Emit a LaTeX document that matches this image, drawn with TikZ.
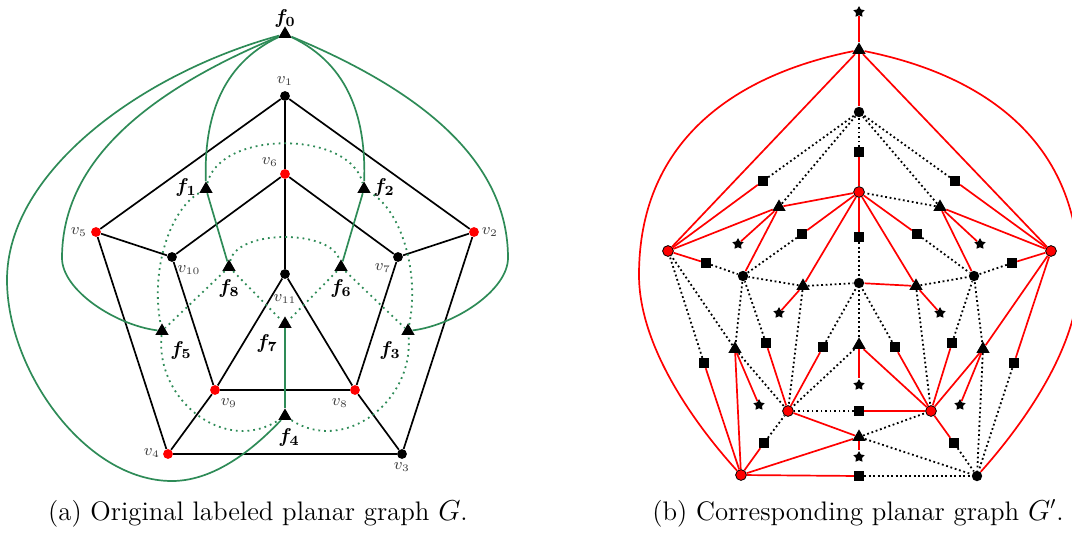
\documentclass[tikz,border=0pt]{standalone}
\usepackage{amsmath}
\usetikzlibrary{shapes.geometric,positioning}
\definecolor{dualGreen}{RGB}{46,139,87}
\definecolor{labGray}{RGB}{60,60,60}
\tikzset{
  vdot/.style={circle,fill=black,inner sep=0pt,minimum size=4.9pt},
  rdot/.style={vdot,fill=red},
  fmark/.style={regular polygon,regular polygon sides=3,fill=black,inner sep=0pt,minimum size=7.6pt},
  emark/.style={rectangle,fill=black,inner sep=0pt,minimum size=4.8pt},
  smark/.style={star,star points=5,star point ratio=1.85,fill=black,inner sep=0pt,minimum size=5.9pt},
  bdot/.style={circle,fill=black,inner sep=0pt,minimum size=5.2pt},
  rring/.style={circle,fill=red,draw=black,line width=0.4pt,inner sep=0pt,minimum size=5.4pt},
  gedge/.style={black,line width=0.85pt},
  dualline/.style={dualGreen,line width=0.85pt},
  dualdot/.style={dualGreen,line width=0.9pt,dotted},
  redline/.style={red,line width=0.85pt},
  dotline/.style={black,line width=0.9pt,dash pattern=on 0.9pt off 1.35pt},
  vlab/.style={text=labGray,inner sep=0pt,font=\fontsize{7.6}{8}\selectfont},
  flab/.style={inner sep=0pt,font=\fontsize{10}{11}\selectfont\boldmath},
  capt/.style={anchor=base,inner sep=0pt,font=\fontsize{13.4}{15}\selectfont}
}
\begin{document}
\begin{tikzpicture}[x=0.5pt,y=-0.5pt]
\useasboundingbox (0,0) rectangle (1072,532);
% (a) graph G and its dual
\node[fmark] (f0) at (285,34) {};
\foreach \n/\x/\y in {v1/285/96,v10/172/257,v7/398/257,v11/285/274,v3/402/454}
  \node[vdot] (\n) at (\x,\y) {};
\foreach \n/\x/\y in {v6/285/174,v5/96/232,v2/474/232,v9/215/390,v8/355/390,v4/168/454}
  \node[rdot] (\n) at (\x,\y) {};
\foreach \n/\x/\y in {f1/206/189,f2/364/189,f8/229/267,f6/341/267,f5/162/331,f3/408/331,f7/285/324,f4/285/416}
  \node[fmark] (\n) at (\x,\y) {};
\foreach \n/\x/\y in {1/285/81,6/270/162,5/79/232,2/490/232,10/189/270,7/383/268,11/285/299,9/229/403,8/340/403,4/152/453,3/402/467}
  \node[vlab] (lv\n) at (\x,\y) {$v_{\n}$};
\foreach \n/\x/\y in {0/285/18,1/186/187,2/384/187,8/229/288,6/341/288,5/181/350,3/390/350,7/267/343,4/289/437}
  \node[flab] (lf\n) at (\x,\y) {$f_{\n}$};
\foreach \a/\b in {v1/v6,v1/v5,v1/v2,v6/v10,v6/v7,v6/v11,v5/v10,v5/v4,v2/v7,v2/v3,v10/v9,v7/v8,v11/v9,v11/v8,v9/v8,v9/v4,v8/v3,v4/v3}
  \draw[gedge] (\a) -- (\b);
\draw[dualdot] (f1) .. controls (220,130) and (350,130) .. (f2);
\draw[dualdot] (f1) .. controls (170,210) and (150,270) .. (f5);
\draw[dualdot] (f5) .. controls (155,400) and (225,455) .. (f4);
\draw[dualdot] (f4) .. controls (345,455) and (415,400) .. (f3);
\draw[dualdot] (f3) .. controls (420,270) and (400,210) .. (f2);
\draw[dualdot] (f8) .. controls (237,229) and (333,229) .. (f6);
\foreach \a/\b in {f8/f5,f8/f7,f6/f7,f6/f3}
  \draw[dualdot] (\a) -- (\b);
\foreach \a/\b in {f1/f8,f2/f6,f7/f4}
  \draw[dualline] (\a) -- (\b);
\draw[dualline] (f0) .. controls (220,65) and (204,120) .. (f1);
\draw[dualline] (f0) .. controls (350,65) and (366,120) .. (f2);
\draw[dualline] (f0) .. controls (150,90) and (62,160) .. (62,258) .. controls (62,290) and (115,325) .. (f5);
\draw[dualline] (f0) .. controls (420,90) and (508,160) .. (508,258) .. controls (508,290) and (455,325) .. (f3);
\draw[dualline] (f0) .. controls (145,72) and (7,170) .. (7,280) .. controls (7,370) and (85,481) .. (172,481) .. controls (220,481) and (262,440) .. (f4);
\node[capt] (capA) at (258,520) {(a) Original labeled planar graph $G$.};
% (b) graph G'
\foreach \n/\x/\y in {w1/859/112,w10/743/276,w7/974/276,w11/859/283,w3/977/476}
  \node[bdot] (\n) at (\x,\y) {};
\foreach \n/\x/\y in {w6/859/192,w5/668/251,w2/1051/251,w9/788/411,w8/931/411,w4/741/475}
  \node[rring] (\n) at (\x,\y) {};
\foreach \n/\x/\y in {g0/859/50,g1/779/207,g2/940/207,g8/803/286,g6/916/286,g5/735/349,g3/983/349,g7/859/345,g4/859/437}
  \node[fmark] (\n) at (\x,\y) {};
\foreach \n/\x/\y in {s0/859/12,s1/738/244,s2/980/244,s8/779/313,s6/940/313,s7/859/385,s5/759/405,s3/960/405,s4/859/457}
  \node[smark] (\n) at (\x,\y) {};
\foreach \n/\x/\y in {e16/859/152,e15/763/181,e12/955/181,e610/802/234,e67/917/234,e611/859/237,e510/706/263,e27/1012/263,e109/766/343,e78/952/343,e119/823/347,e118/895/347,e54/704/363,e23/1014/363,e98/859/411,e94/764/443,e83/954/443,e43/859/476}
  \node[emark] (\n) at (\x,\y) {};
\foreach \a/\b in {g1/w1,g2/w1,g2/w6,g8/w10,g8/w11,g8/w9,g6/w7,g6/w8,g7/w9,g7/w11,g5/w5,g5/w10,g5/w9,g3/w7,g3/w3,g4/w8,g4/w3,
    e16/w1,e15/w1,e12/w1,e610/w10,e67/w7,e611/w11,e510/w10,e27/w7,e109/w10,e78/w7,e119/w11,e118/w11,e54/w5,e23/w3,e98/w9,e94/w9,e83/w3,e43/w3}
  \draw[dotline] (\a) -- (\b);
\foreach \a/\b in {s0/g0,g0/w1,g0/w5,g0/w2,g1/w6,g1/w5,g1/w10,g1/s1,g2/w2,g2/w7,g2/s2,g8/w6,g8/s8,g6/w6,g6/w11,g6/s6,g7/s7,g7/w8,g5/w4,g5/s5,g3/w2,g3/w8,g3/s3,g4/s4,g4/w9,g4/w4,
    e16/w6,e15/w5,e12/w2,e610/w6,e67/w6,e611/w6,e510/w5,e27/w2,e109/w9,e78/w8,e119/w9,e118/w8,e54/w4,e23/w2,e98/w8,e94/w4,e83/w8,e43/w4}
  \draw[redline] (\a) -- (\b);
\draw[redline] (g0) .. controls (729,76) and (639,145) .. (639,275) .. controls (639,350) and (700,430) .. (w4);
\draw[redline] (g0) .. controls (989,76) and (1079,145) .. (1079,275) .. controls (1079,350) and (1018,430) .. (w3);
\node[capt] (capB) at (858,520) {(b) Corresponding planar graph $G'$.};
\end{tikzpicture}
\end{document}
